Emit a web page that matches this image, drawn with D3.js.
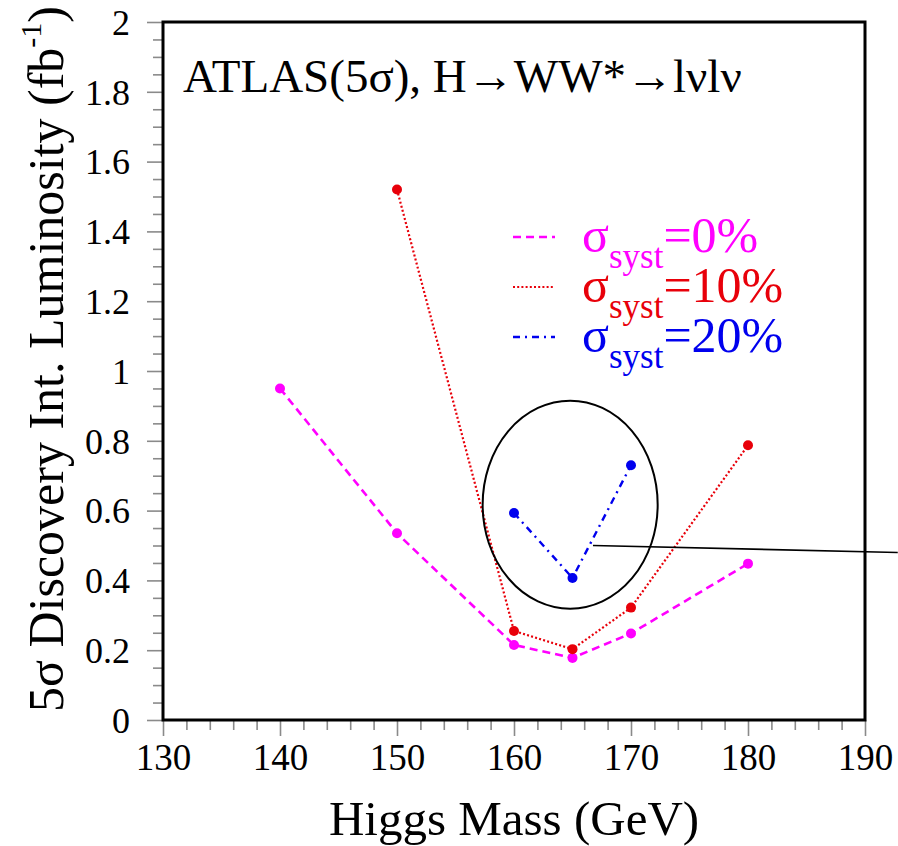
<!DOCTYPE html>
<html>
<head>
<meta charset="utf-8">
<script src="https://cdn.jsdelivr.net/npm/d3@7"></script>
<style>
  html, body { margin: 0; padding: 0; background: #fff; }
  svg { display: block; }
</style>
</head>
<body>
<svg id="chart" width="898" height="846"></svg>
<script>
// ---- data ----
const xTicks = [130, 140, 150, 160, 170, 180, 190];
const yTicks = [0, 0.2, 0.4, 0.6, 0.8, 1, 1.2, 1.4, 1.6, 1.8, 2];
const yTickLabels = ["0", "0.2", "0.4", "0.6", "0.8", "1", "1.2", "1.4", "1.6", "1.8", "2"];

const mass0 = [140, 150, 160, 165, 170, 180];
const lumi0 = [0.95, 0.535, 0.215, 0.178, 0.248, 0.448];

const mass10 = [150, 160, 165, 170, 180];
const lumi10 = [1.52, 0.255, 0.203, 0.322, 0.787];

const mass20 = [160, 165, 170];
const lumi20 = [0.593, 0.407, 0.73];

const legendLabels = ["=0%", "=10%", "=20%"];

// annotation (data coordinates)
const ellipseCenter = [164.8, 0.617];
const ellipseRadii = [7.48, 0.298];
const pointerFrom = [166.75, 0.5];
const pointerTo = [192.8, 0.48];

// ---- layout ----
const SERIF = "'Liberation Serif', 'Times New Roman', Times, serif";
const svg = d3.select("#chart");
const L = 163, R = 865, T = 22, B = 720;
const x = d3.scaleLinear().domain([130, 190]).range([L, R]);
const y = d3.scaleLinear().domain([0, 2]).range([B, T]);

const series = [
  { m: mass0, v: lumi0, color: "#ff00ff", dash: "8,5", width: 2.6, label: legendLabels[0] },
  { m: mass10, v: lumi10, color: "#e8000a", dash: "2,2.2", width: 2.2, label: legendLabels[1] },
  { m: mass20, v: lumi20, color: "#0000ee", dash: "7,5,2,5", width: 2.4, label: legendLabels[2] }
];

// ticks (outside frame)
const tickColor = "#8a8a8a";
const xAxis = d3.axisBottom(x).tickValues(xTicks).tickSize(16).tickFormat(d => d);
const xMinor = d3.axisBottom(x).tickValues(d3.range(130, 190.01, 2).filter(v => v % 10 !== 0)).tickSize(10).tickFormat("");
const yAxis = d3.axisLeft(y).tickValues(yTicks).tickSize(16).tickFormat((d, i) => yTickLabels[i]);
const yMinor = d3.axisLeft(y).tickValues(d3.range(0, 2.001, 0.05).filter(v => Math.abs(v * 5 - Math.round(v * 5)) > 1e-6)).tickSize(10).tickFormat("");

function styleAxis(g) {
  g.attr("font-family", null).attr("font-size", null);
  g.select(".domain").remove();
  g.selectAll(".tick line").attr("stroke", tickColor).attr("stroke-width", 1.6);
  g.selectAll(".tick text").attr("fill", "#000").style("font-family", SERIF);
}

const gx = svg.append("g").attr("transform", `translate(0,${B})`).call(xAxis).call(styleAxis);
gx.selectAll(".tick text").style("font-size", "37px").attr("dy", null).attr("y", 50);
svg.append("g").attr("transform", `translate(0,${B})`).call(xMinor).call(styleAxis);

const gy = svg.append("g").attr("transform", `translate(${L},0)`).call(yAxis).call(styleAxis);
gy.selectAll(".tick text").style("font-size", "36px").attr("x", -33).attr("dy", "0.34em");
svg.append("g").attr("transform", `translate(${L},0)`).call(yMinor).call(styleAxis);

// frame
svg.append("rect").attr("x", L).attr("y", T).attr("width", R - L).attr("height", B - T)
  .attr("fill", "none").attr("stroke", "#000").attr("stroke-width", 3);

// series
const line = d3.line().x(d => x(d[0])).y(d => y(d[1]));
series.forEach(s => {
  const pts = s.m.map((m, i) => [m, s.v[i]]);
  svg.append("path").datum(pts).attr("d", line)
    .attr("fill", "none").attr("stroke", s.color).attr("stroke-width", s.width)
    .attr("stroke-dasharray", s.dash);
  svg.append("g").selectAll("circle").data(pts).join("circle")
    .attr("cx", d => x(d[0])).attr("cy", d => y(d[1])).attr("r", 5)
    .attr("fill", s.color);
});

// title
svg.append("text").attr("x", 183).attr("y", 92).attr("fill", "#000")
  .style("font-family", SERIF).style("font-size", "47px")
  .text("ATLAS(5σ), H→WW*→lνlν");

// legend
series.forEach((s, i) => {
  const ly = 237 + i * 50;
  svg.append("line").attr("x1", 513).attr("x2", 555).attr("y1", ly).attr("y2", ly)
    .attr("stroke", s.color).attr("stroke-width", s.width).attr("stroke-dasharray", s.dash);
  const t = svg.append("text").attr("x", 582).attr("y", ly + 15).attr("fill", s.color)
    .style("font-family", SERIF).style("font-size", "50px");
  t.append("tspan").text("σ");
  t.append("tspan").style("font-size", "35px").attr("dy", 16).text("syst");
  t.append("tspan").attr("dy", -16).text(s.label);
});

// axis titles
svg.append("text").attr("x", (L + R) / 2).attr("y", 835).attr("text-anchor", "middle")
  .style("font-family", SERIF).style("font-size", "49px").attr("fill", "#000").text("Higgs Mass (GeV)");

const yl = svg.append("text").attr("transform", `translate(63,712) rotate(-90)`)
  .attr("text-anchor", "start").attr("fill", "#000")
  .style("font-family", SERIF).style("font-size", "50px");
yl.append("tspan").text("5σ Discovery Int. Luminosity (fb");
yl.append("tspan").style("font-size", "30px").attr("dy", -22).text("-1");
yl.append("tspan").attr("dy", 22).text(")");

// annotation
svg.append("ellipse")
  .attr("cx", x(ellipseCenter[0])).attr("cy", y(ellipseCenter[1]))
  .attr("rx", x(ellipseCenter[0] + ellipseRadii[0]) - x(ellipseCenter[0]))
  .attr("ry", y(ellipseCenter[1] - ellipseRadii[1]) - y(ellipseCenter[1]))
  .attr("fill", "none").attr("stroke", "#000").attr("stroke-width", 2);
svg.append("line")
  .attr("x1", x(pointerFrom[0])).attr("y1", y(pointerFrom[1]))
  .attr("x2", x(pointerTo[0])).attr("y2", y(pointerTo[1]))
  .attr("stroke", "#000").attr("stroke-width", 1.6);
</script>
</body>
</html>
